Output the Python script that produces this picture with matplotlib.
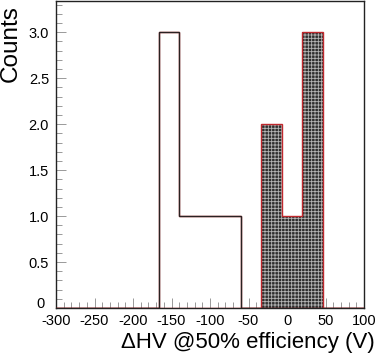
import numpy as np
import matplotlib
matplotlib.use("Agg")
import matplotlib.pyplot as plt
import matplotlib.transforms as mtransforms
from matplotlib.ticker import MultipleLocator, FixedLocator, FixedFormatter

plt.rcParams['font.family'] = ['Liberation Sans', 'DejaVu Sans']
plt.rcParams['hatch.linewidth'] = 0.6
plt.rcParams['axes.unicode_minus'] = False

# 15 bins from -300 to 100 V
bin_edges = np.linspace(-300, 100, 16)
counts_open = [0, 0, 0, 0, 0, 3, 1, 1, 1, 0, 0, 0, 0, 0, 0]
counts_fill = [0, 0, 0, 0, 0, 0, 0, 0, 0, 0, 2, 1, 3, 0, 0]
yticks = [0, 0.5, 1.0, 1.5, 2.0, 2.5, 3.0]
ytick_labels = ["0", "0.5", "1.0", "1.5", "2.0", "2.5", "3.0"]

fig = plt.figure(figsize=(3.82, 3.60), dpi=100)
ax = fig.add_axes([56 / 382, 52 / 360, 308 / 382, 307 / 360])

# filled histogram: dark crosshatch
ax.stairs(counts_fill, bin_edges, fill=True, facecolor='#2e2e2e',
          edgecolor='#b5b5b5', linewidth=0, hatch='+++++', zorder=2)
ax.stairs(counts_fill, bin_edges, color='#c0282d', linewidth=1.0, zorder=3)

# open histogram
ax.stairs(counts_open, bin_edges, color='#c0282d', linewidth=1.0, zorder=3)
ax.stairs(counts_open, bin_edges, baseline=None, color='#2a2222', linewidth=1.0, zorder=4)

ax.set_xlim(-300, 100)
ax.set_ylim(0, 3.34)

ax.xaxis.set_major_locator(MultipleLocator(50))
ax.xaxis.set_minor_locator(MultipleLocator(10))
ax.yaxis.set_major_locator(FixedLocator(yticks))
ax.yaxis.set_major_formatter(FixedFormatter(ytick_labels))
ax.yaxis.set_minor_locator(MultipleLocator(0.1))

ax.tick_params(which='both', direction='in', color='#999999', labelsize=10.5, width=0.7)
ax.tick_params(which='major', length=7)
ax.tick_params(which='minor', length=4)
ax.tick_params(axis='y', pad=5)
ax.tick_params(axis='x', pad=4)

# ROOT style: the "0" label sits a little above and left of the others
fig.canvas.draw()
zero_lab = ax.yaxis.get_major_ticks()[0].label1
zero_lab.set_transform(zero_lab.get_transform() +
                       mtransforms.ScaledTranslation(-3 / 72, 4 / 72, fig.dpi_scale_trans))

for s in ax.spines.values():
    s.set_linewidth(1.0)
    s.set_color('#222222')

ax.set_xlabel(u"\u0394HV @50% efficiency (V)", fontsize=16, ha='right', x=1.035, labelpad=3)
ax.set_ylabel("Counts", fontsize=17.5, ha='right', y=0.985, labelpad=5)

fig.savefig("out.png", dpi=100)
